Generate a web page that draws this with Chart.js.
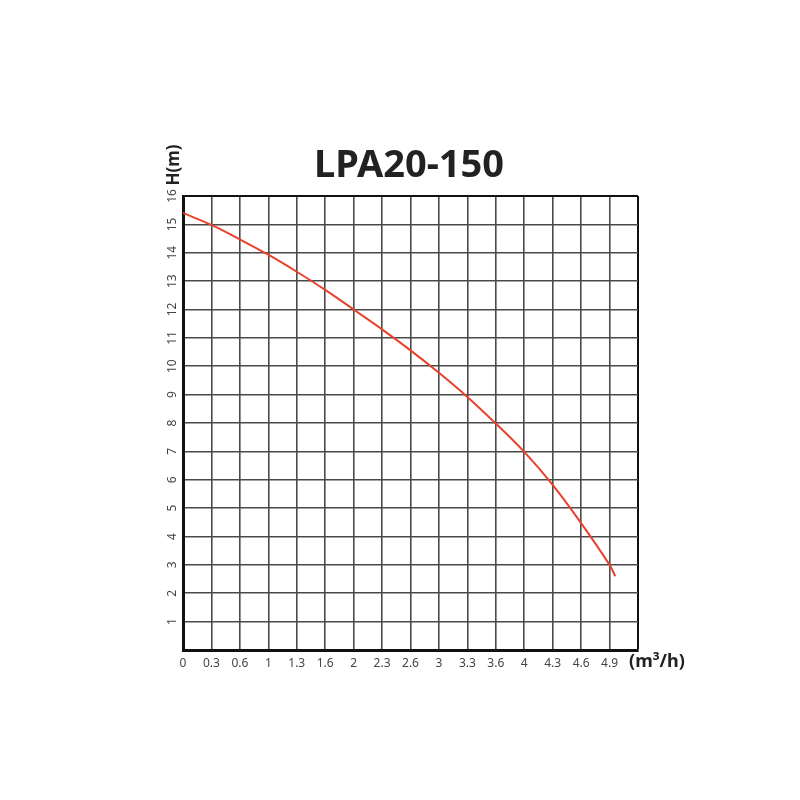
<!doctype html>
<html lang="en">
<head>
<meta charset="utf-8">
<title>LPA20-150</title>
<style>
  * { margin:0; padding:0; box-sizing:border-box; }
  body { background:#fff; }
  .chartbox { width:800px; height:800px; }
</style>
</head>
<body>
<div class="chartbox"><canvas id="myChart" width="800" height="800"></canvas></div>
<script src="https://cdn.jsdelivr.net/npm/chart.js@4/dist/chart.umd.min.js"></script>
<script>
// x positions are grid column indexes, labels are what is printed under them
const xLabels = ['0','0.3','0.6','1','1.3','1.6','2','2.3','2.6','3','3.3','3.6','4','4.3','4.6','4.9'];
const yLabels = ['','1','2','3','4','5','6','7','8','9','10','11','12','13','14','15','16'];
const curveX = [0, 1, 2, 3, 4, 5, 6, 7, 8, 9, 10, 11, 12, 13, 14, 15, 15.2];
const curveH = [15.4, 14.98, 14.47, 13.93, 13.33, 12.69, 12.0, 11.3, 10.56, 9.77, 8.92, 7.98, 6.98, 5.82, 4.47, 3.0, 2.6];

const labelFont = '"Noto Sans", sans-serif';

const extraText = {
  id: 'extraText',
  afterDraw(chart) {
    const c = chart.ctx;
    const ys = chart.scales.y;
    const area = chart.chartArea;
    c.save();
    c.fillStyle = '#222';
    c.font = 'bold 38px ' + labelFont;
    c.textAlign = 'center';
    c.textBaseline = 'alphabetic';
    c.fillText('LPA20-150', 409, 177);

    // y tick labels, rotated
    c.fillStyle = '#444';
    c.font = '12px ' + labelFont;
    c.textBaseline = 'middle';
    for (let v = 1; v <= 16; v++) {
      const py = ys.getPixelForValue(v);
      c.save();
      c.translate(area.left - 10, py);
      c.rotate(-Math.PI / 2);
      c.fillText(yLabels[v], 0, 0);
      c.restore();
    }

    c.fillStyle = '#222';
    c.font = 'bold 17px ' + labelFont;
    c.save();
    c.translate(174, 165);
    c.rotate(-Math.PI / 2);
    c.fillText('H(m)', 0, 0);
    c.restore();

    c.font = 'bold 18px ' + labelFont;
    c.fillText('(m\u00B3/h)', 657, 662);
    c.restore();
  }
};

const ctx = document.getElementById('myChart').getContext('2d');
const myChart = new Chart(ctx, {
  type: 'line',
  data: {
    datasets: [{
      data: curveX.map((x, i) => ({ x: x, y: curveH[i] })),
      borderColor: '#e8412c',
      borderWidth: 2,
      pointRadius: 0,
      tension: 0.4,
      fill: false
    }]
  },
  options: {
    responsive: false,
    animation: false,
    layout: { padding: { left: 150, right: 162, top: 196, bottom: 124 } },
    plugins: { legend: { display: false }, tooltip: { enabled: false } },
    scales: {
      x: {
        type: 'linear',
        min: 0, max: 16,
        afterFit(scale) { scale.height = 26; },
        border: { color: '#111', width: 3 },
        grid: {
          drawTicks: false,
          color: ctx => ctx.tick.value === 16 ? '#111' : '#4a4a4a',
          lineWidth: ctx => ctx.tick.value === 16 ? 2 : 1.6
        },
        ticks: {
          stepSize: 1,
          padding: 6,
          maxRotation: 0,
          autoSkip: false,
          color: '#444',
          font: { family: labelFont, size: 12 },
          callback: v => xLabels[v] !== undefined ? xLabels[v] : ''
        }
      },
      y: {
        min: 0, max: 16,
        afterFit(scale) { scale.width = 33; },
        border: { color: '#111', width: 3 },
        grid: {
          drawTicks: false,
          color: ctx => ctx.tick.value === 16 ? '#111' : '#4a4a4a',
          lineWidth: ctx => ctx.tick.value === 16 ? 2 : 1.6
        },
        ticks: { stepSize: 1, display: false }
      }
    }
  },
  plugins: [extraText]
});
</script>
</body>
</html>
